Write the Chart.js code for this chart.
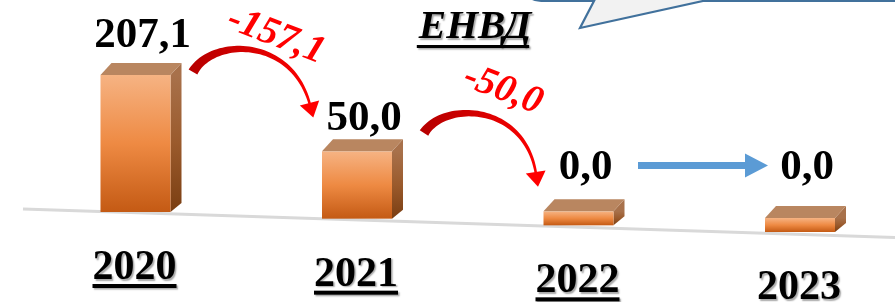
<!DOCTYPE html>
<html><head><meta charset="utf-8">
<script src="https://cdn.jsdelivr.net/npm/chart.js@4/dist/chart.umd.min.js"></script>
<style>html,body{margin:0;padding:0;background:#fff;overflow:hidden}canvas{display:block}</style>
</head><body>
<canvas id="c" width="895" height="302"></canvas>
<script>
// ---- data ----
const categories = ['2020', '2021', '2022', '2023'];
const values = [207.1, 50.0, 0.0, 0.0];
const title = 'ЕНВД';
const changes = values.slice(1).map((v, i) => +(v - values[i]).toFixed(1));
const fmt = v => v.toFixed(1).replace('.', ',');

// ---- style ----
const SERIF = "'Liberation Serif','Times New Roman',serif";
const TILT = 0.0301;          // perspective tilt of the floor (px per px)
const DEPTH = {dx: 11, dy: -12};
const VALUE_GAP = [28, 21, 32, 39];

// square-root value scale (matches the picture's bar proportions)
class SqrtScale extends Chart.LinearScale {
  static id = 'sqrt';
  getPixelForValue(value) {
    const lo = Math.sqrt(Math.max(0, this.min)), hi = Math.sqrt(this.max);
    const s = Math.sqrt(Math.max(0, +value));
    return this.getPixelForDecimal((s - lo) / (hi - lo));
  }
  getValueForPixel(pixel) {
    const lo = Math.sqrt(Math.max(0, this.min)), hi = Math.sqrt(this.max);
    const s = lo + this.getDecimalForPixel(pixel) * (hi - lo);
    return s * s;
  }
}
Chart.register(SqrtScale);

function cubic(p, t) {
  const u = 1 - t;
  return {
    x: u*u*u*p[0][0] + 3*u*u*t*p[1][0] + 3*u*t*t*p[2][0] + t*t*t*p[3][0],
    y: u*u*u*p[0][1] + 3*u*u*t*p[1][1] + 3*u*t*t*p[2][1] + t*t*t*p[3][1]
  };
}
function cubicD(p, t) {
  const u = 1 - t;
  return {
    x: 3*u*u*(p[1][0]-p[0][0]) + 6*u*t*(p[2][0]-p[1][0]) + 3*t*t*(p[3][0]-p[2][0]),
    y: 3*u*u*(p[1][1]-p[0][1]) + 6*u*t*(p[2][1]-p[1][1]) + 3*t*t*(p[3][1]-p[2][1])
  };
}
function curvedArrow(ctx, p, w0, w1, headLen, headW) {
  const N = 50, L = [], R = [];
  for (let i = 0; i <= N; i++) {
    const t = i / N, P = cubic(p, t), D = cubicD(p, t);
    const len = Math.hypot(D.x, D.y), nx = -D.y / len, ny = D.x / len;
    const w = (w0 + (w1 - w0) * Math.pow(t, 0.8)) / 2;
    L.push([P.x + nx * w, P.y + ny * w]);
    R.push([P.x - nx * w, P.y - ny * w]);
  }
  const g = ctx.createLinearGradient(p[0][0], p[0][1], p[3][0], p[3][1]);
  g.addColorStop(0, '#b80000'); g.addColorStop(0.5, '#e00000'); g.addColorStop(1, '#ff0000');
  ctx.fillStyle = g;
  ctx.beginPath();
  L.forEach((q, i) => i ? ctx.lineTo(q[0], q[1]) : ctx.moveTo(q[0], q[1]));
  for (let i = R.length - 1; i >= 0; i--) ctx.lineTo(R[i][0], R[i][1]);
  ctx.closePath(); ctx.fill();
  const E = cubic(p, 1), D = cubicD(p, 1), len = Math.hypot(D.x, D.y);
  const dx = D.x / len, dy = D.y / len, nx = -dy, ny = dx;
  ctx.fillStyle = '#ff0000';
  ctx.beginPath();
  ctx.moveTo(E.x + nx * headW / 2 - dx * 2, E.y + ny * headW / 2 - dy * 2);
  ctx.lineTo(E.x + dx * headLen, E.y + dy * headLen);
  ctx.lineTo(E.x - nx * headW / 2 - dx * 2, E.y - ny * headW / 2 - dy * 2);
  ctx.closePath(); ctx.fill();
}

// annotation layout (arrows between bars)
const RED_ARROWS = [
  {path: [[193, 72], [212, 38], [292, 36], [310, 105]], label: {x: 276, y: 36, rot: 21}},
  {path: [[424, 133], [444, 101], [525, 103], [536, 174]], label: {x: 503, y: 90, rot: 21}}
];
const BLUE_ARROW = {x0: 638, x1: 768, y: 165.5, shaft: 7, headLen: 23, headW: 24};

const deco = {
  id: 'deco',
  beforeDraw(chart) {
    const ctx = chart.ctx, y = chart.scales.y;
    ctx.save();
    ctx.fillStyle = '#fff'; ctx.fillRect(0, 0, chart.width, chart.height);
    // callout box
    ctx.beginPath();
    ctx.moveTo(525, -40); ctx.lineTo(525, -10);
    ctx.quadraticCurveTo(527, 1, 545, 1);
    ctx.lineTo(594, 1); ctx.lineTo(580, 28); ctx.lineTo(703, 1); ctx.lineTo(900, 1);
    ctx.lineTo(900, -40); ctx.closePath();
    ctx.fillStyle = '#f2f2f2'; ctx.fill();
    ctx.strokeStyle = '#41719c'; ctx.lineWidth = 2.2; ctx.stroke();
    // floor line
    const x0 = chart.getDatasetMeta(0).data[0].x;
    const b = y.getPixelForValue(0) + 0.7;
    ctx.strokeStyle = '#d9d9d9'; ctx.lineWidth = 3;
    ctx.beginPath();
    ctx.moveTo(23, b + 0.0327 * (23 - x0));
    ctx.lineTo(895, b + 0.0327 * (895 - x0));
    ctx.stroke();
    ctx.restore();
  },
  beforeDatasetDraw(chart, args) {
    const ctx = chart.ctx, meta = args.meta, x0 = meta.data[0].x;
    ctx.save();
    meta.data.forEach(el => {
      const sh = TILT * (el.x - x0);
      const l = el.x - el.width / 2, r = el.x + el.width / 2;
      const top = el.y + sh, bot = el.base + sh;
      const {dx, dy} = DEPTH;
      // side
      const gs = ctx.createLinearGradient(0, top, 0, bot);
      gs.addColorStop(0, '#a8714b'); gs.addColorStop(0.5, '#9a5a2c'); gs.addColorStop(1, '#7a3e12');
      ctx.fillStyle = gs;
      ctx.beginPath();
      ctx.moveTo(r, top); ctx.lineTo(r + dx, top + dy); ctx.lineTo(r + dx, bot + dy + 3); ctx.lineTo(r, bot);
      ctx.closePath(); ctx.fill();
      // front
      const gf = ctx.createLinearGradient(0, top, 0, bot);
      gf.addColorStop(0, '#f6b383'); gf.addColorStop(0.5, '#ee8a43'); gf.addColorStop(1, '#c45a14');
      ctx.fillStyle = gf;
      ctx.fillRect(l, top, r - l, bot - top);
      // top
      ctx.fillStyle = '#b98660';
      ctx.beginPath();
      ctx.moveTo(l, top); ctx.lineTo(l + dx, top + dy); ctx.lineTo(r + dx, top + dy); ctx.lineTo(r, top);
      ctx.closePath(); ctx.fill();
    });
    ctx.restore();
    return false;
  },
  afterDraw(chart) {
    const ctx = chart.ctx, meta = chart.getDatasetMeta(0), x0 = meta.data[0].x;
    ctx.save();
    // value labels
    ctx.fillStyle = '#000'; ctx.textAlign = 'center'; ctx.textBaseline = 'alphabetic';
    ctx.font = 'bold 43px ' + SERIF;
    meta.data.forEach((el, i) => {
      const sh = TILT * (el.x - x0);
      ctx.fillText(fmt(values[i]), el.x + 7, el.y + sh - VALUE_GAP[i]);
    });
    // year labels (underlined, with shadow)
    ctx.font = 'bold 42px ' + SERIF;
    meta.data.forEach((el, i) => {
      const sh = TILT * (el.x - x0);
      const by = el.base + sh + 67, cx = el.x - 1;
      const w = ctx.measureText(categories[i]).width;
      ctx.shadowColor = 'rgba(0,0,0,0.35)'; ctx.shadowOffsetX = 1.5; ctx.shadowOffsetY = 1.5; ctx.shadowBlur = 1.5;
      ctx.fillText(categories[i], cx, by);
      ctx.fillRect(cx - w / 2, by + 5, w, 4);
      ctx.shadowColor = 'transparent';
    });
    // title
    ctx.font = 'italic bold 41px ' + SERIF;
    const tw = ctx.measureText(title).width;
    ctx.shadowColor = 'rgba(0,0,0,0.35)'; ctx.shadowOffsetX = 1.5; ctx.shadowOffsetY = 1.5; ctx.shadowBlur = 1.5;
    ctx.fillText(title, 475, 38);
    ctx.fillRect(475 - tw / 2 - 2, 45, tw, 3);
    ctx.shadowColor = 'transparent';
    // change arrows
    let k = 0;
    changes.forEach(c => {
      if (c < 0) {
        const a = RED_ARROWS[k++];
        curvedArrow(ctx, a.path, 10, 2.5, 13, 20);
        ctx.save();
        ctx.translate(a.label.x, a.label.y);
        ctx.rotate(a.label.rot * Math.PI / 180);
        ctx.fillStyle = '#ff0000'; ctx.font = 'italic bold 39px ' + SERIF;
        ctx.textAlign = 'center'; ctx.textBaseline = 'middle';
        ctx.fillText(fmt(c), 0, 0);
        ctx.restore();
      } else {
        const B = BLUE_ARROW;
        ctx.fillStyle = '#5b9bd5';
        ctx.beginPath();
        ctx.moveTo(B.x0, B.y - B.shaft / 2);
        ctx.lineTo(B.x1 - B.headLen, B.y - B.shaft / 2);
        ctx.lineTo(B.x1 - B.headLen, B.y - B.headW / 2);
        ctx.lineTo(B.x1, B.y);
        ctx.lineTo(B.x1 - B.headLen, B.y + B.headW / 2);
        ctx.lineTo(B.x1 - B.headLen, B.y + B.shaft / 2);
        ctx.lineTo(B.x0, B.y + B.shaft / 2);
        ctx.closePath(); ctx.fill();
      }
    });
    ctx.restore();
  }
};

new Chart(document.getElementById('c'), {
  type: 'bar',
  data: {
    labels: categories,
    datasets: [{data: values, barThickness: 70, minBarLength: 14, clip: false}]
  },
  options: {
    responsive: false, animation: false, events: [],
    layout: {padding: {left: 135.5, right: 95, top: 75, bottom: 90}},
    scales: {
      x: {display: false, offset: false, grid: {display: false}},
      y: {type: 'sqrt', display: false, min: 0, max: 207.1}
    },
    plugins: {legend: {display: false}, tooltip: {enabled: false}}
  },
  plugins: [deco]
});
</script>
</body></html>
